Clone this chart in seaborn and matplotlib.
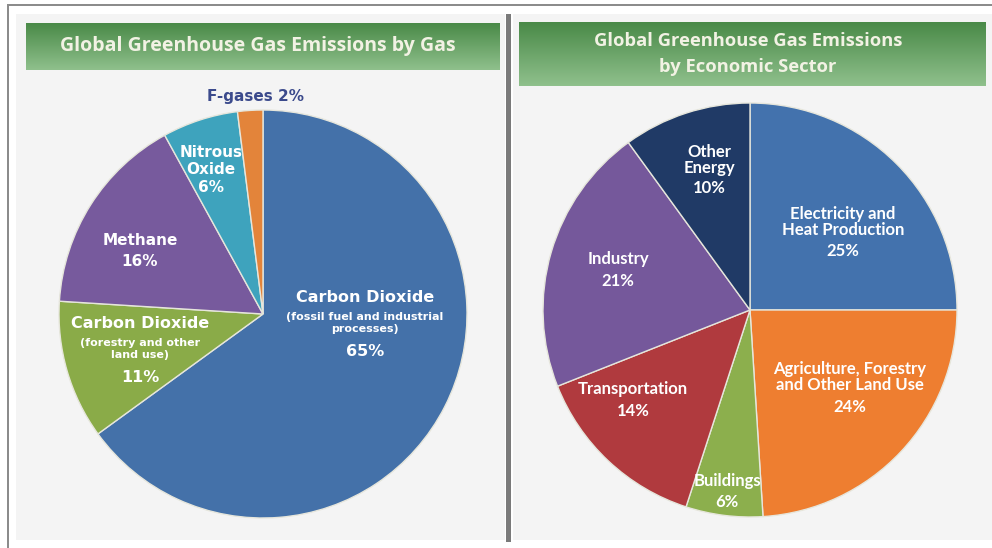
import numpy as np
import matplotlib
matplotlib.use("Agg")
import matplotlib.pyplot as plt
import seaborn as sns
from matplotlib.patches import Rectangle

sns.set_theme(style="white")
plt.rcParams["font.family"] = ["DejaVu Sans"]

# ---- data -------------------------------------------------------------
gas_names = ["Carbon Dioxide", "Carbon Dioxide", "Methane", "Nitrous\nOxide", "F-gases"]
gas_notes = ["(fossil fuel and industrial\nprocesses)", "(forestry and other\nland use)", "", "", ""]
gas_share = [65, 11, 16, 6, 2]
gas_colors = ["#4471a9", "#8aab48", "#775a9d", "#3ea3bd", "#e3843a"]

sector_names = ["Electricity and\nHeat Production", "Agriculture, Forestry\nand Other Land Use",
                "Buildings", "Transportation", "Industry", "Other\nEnergy"]
sector_share = [25, 24, 6, 14, 21, 10]
sector_colors = ["#4372ad", "#ee7e30", "#8caf4d", "#b03a3e", "#75589b", "#203a66"]

titles = ["Global Greenhouse Gas Emissions by Gas",
          "Global Greenhouse Gas Emissions\nby Economic Sector"]

W, H = 992, 548
fig = plt.figure(figsize=(W / 100, H / 100), dpi=100)
fig.patch.set_facecolor("white")


def px_rect(x0, y0, x1, y1):
    return [x0 / W, 1 - y1 / H, (x1 - x0) / W, (y1 - y0) / H]


def fig_rect(x0, y0, x1, y1, **kw):
    fig.patches.append(Rectangle((x0 / W, 1 - y1 / H), (x1 - x0) / W, (y1 - y0) / H,
                                 transform=fig.transFigure, zorder=-10, **kw))


# frame and panel backgrounds
fig_rect(7, 4, 992, 6, color="#8c8c8c", lw=0)
fig_rect(7, 4, 9, 548, color="#8c8c8c", lw=0)
fig_rect(16, 14, 505, 540, color="#f4f4f4", lw=0)
fig_rect(513, 14, 992, 540, color="#f4f4f4", lw=0)
fig_rect(506, 14, 511, 542, color="#7a7a7a", lw=0)

# green title bars with a vertical gradient
green = sns.blend_palette(["#4a8a48", "#8fc08c"], n_colors=64, as_cmap=True)
grad = np.linspace(0, 1, 64).reshape(-1, 1)
bars = [(26, 23, 500, 70, 14.0, 0.5), (519, 22, 986, 86, 13.2, 1.55)]
for (x0, y0, x1, y1, fs, ls), title in zip(bars, titles):
    bax = fig.add_axes(px_rect(x0, y0, x1, y1))
    bax.imshow(grad, aspect="auto", cmap=green, extent=(0, 1, 0, 1))
    bax.set_axis_off()
    bax.text(0.49, 0.5, title, ha="center", va="center", color="#f2f2e4",
             fontsize=fs, fontweight="bold", family=["Open Sans", "DejaVu Sans"],
             linespacing=ls, transform=bax.transAxes)


def pie_axes(cx, cy, r):
    ax = fig.add_axes(px_rect(cx - r, cy - r, cx + r, cy + r))
    ax.set_axis_off()
    return ax


# ---- left pie: by gas ---------------------------------------------------
ax1 = pie_axes(263, 314, 204)
ax1.pie(gas_share, colors=gas_colors, startangle=90, counterclock=False,
        wedgeprops=dict(edgecolor="#e6e6dc", linewidth=1.0))
ax1.set_xlim(-1, 1)
ax1.set_ylim(-1, 1)

lbl = dict(color="white", ha="center", va="center", fontweight="bold",
           family=["DejaVu Sans"])


def pxt(x, y, s, size, **kw):
    opts = dict(lbl)
    opts.update(kw)
    fig.text(x / W, 1 - y / H, s, fontsize=size, **opts)


# Carbon dioxide, fossil fuel
pxt(365, 297, gas_names[0], 11.5)
pxt(365, 323, gas_notes[0], 8, linespacing=1.2)
pxt(365, 352, f"{gas_share[0]}%", 11.5)
# Carbon dioxide, forestry
pxt(140, 324, gas_names[1], 11.5)
pxt(140, 349, gas_notes[1], 8, linespacing=1.2)
pxt(140, 377, f"{gas_share[1]}%", 11.5)
# Methane
pxt(140, 251, f"{gas_names[2]}\n{gas_share[2]}%", 11, linespacing=1.5)
# Nitrous oxide
pxt(211, 170, f"{gas_names[3]}\n{gas_share[3]}%", 11, linespacing=1.2)
# F-gases sits above the pie
pxt(255, 97, f"{gas_names[4]} {gas_share[4]}%", 11, color="#3b4a8c")

# ---- right pie: by economic sector ---------------------------------------
ax2 = pie_axes(750, 310, 207)
ax2.pie(sector_share, colors=sector_colors, startangle=90, counterclock=False,
        wedgeprops=dict(edgecolor="#e6e6dc", linewidth=1.0))
ax2.set_xlim(-1, 1)
ax2.set_ylim(-1, 1)

rfam = ["Lato", "Open Sans", "DejaVu Sans"]
# (x, name centre y, percentage y)
sector_pos = [(843, 222, 251), (850, 377, 407), (727, 481, 502),
              (633, 389, 411), (618, 259, 281), (709, 160, 188)]
for name, share, (x, yn, yp) in zip(sector_names, sector_share, sector_pos):
    pxt(x, yn, name, 12, fontweight="bold", family=rfam, linespacing=0.98)
    pxt(x, yp, f"{share}%", 12, fontweight="bold", family=rfam)

fig.savefig("out.png", dpi=100)
